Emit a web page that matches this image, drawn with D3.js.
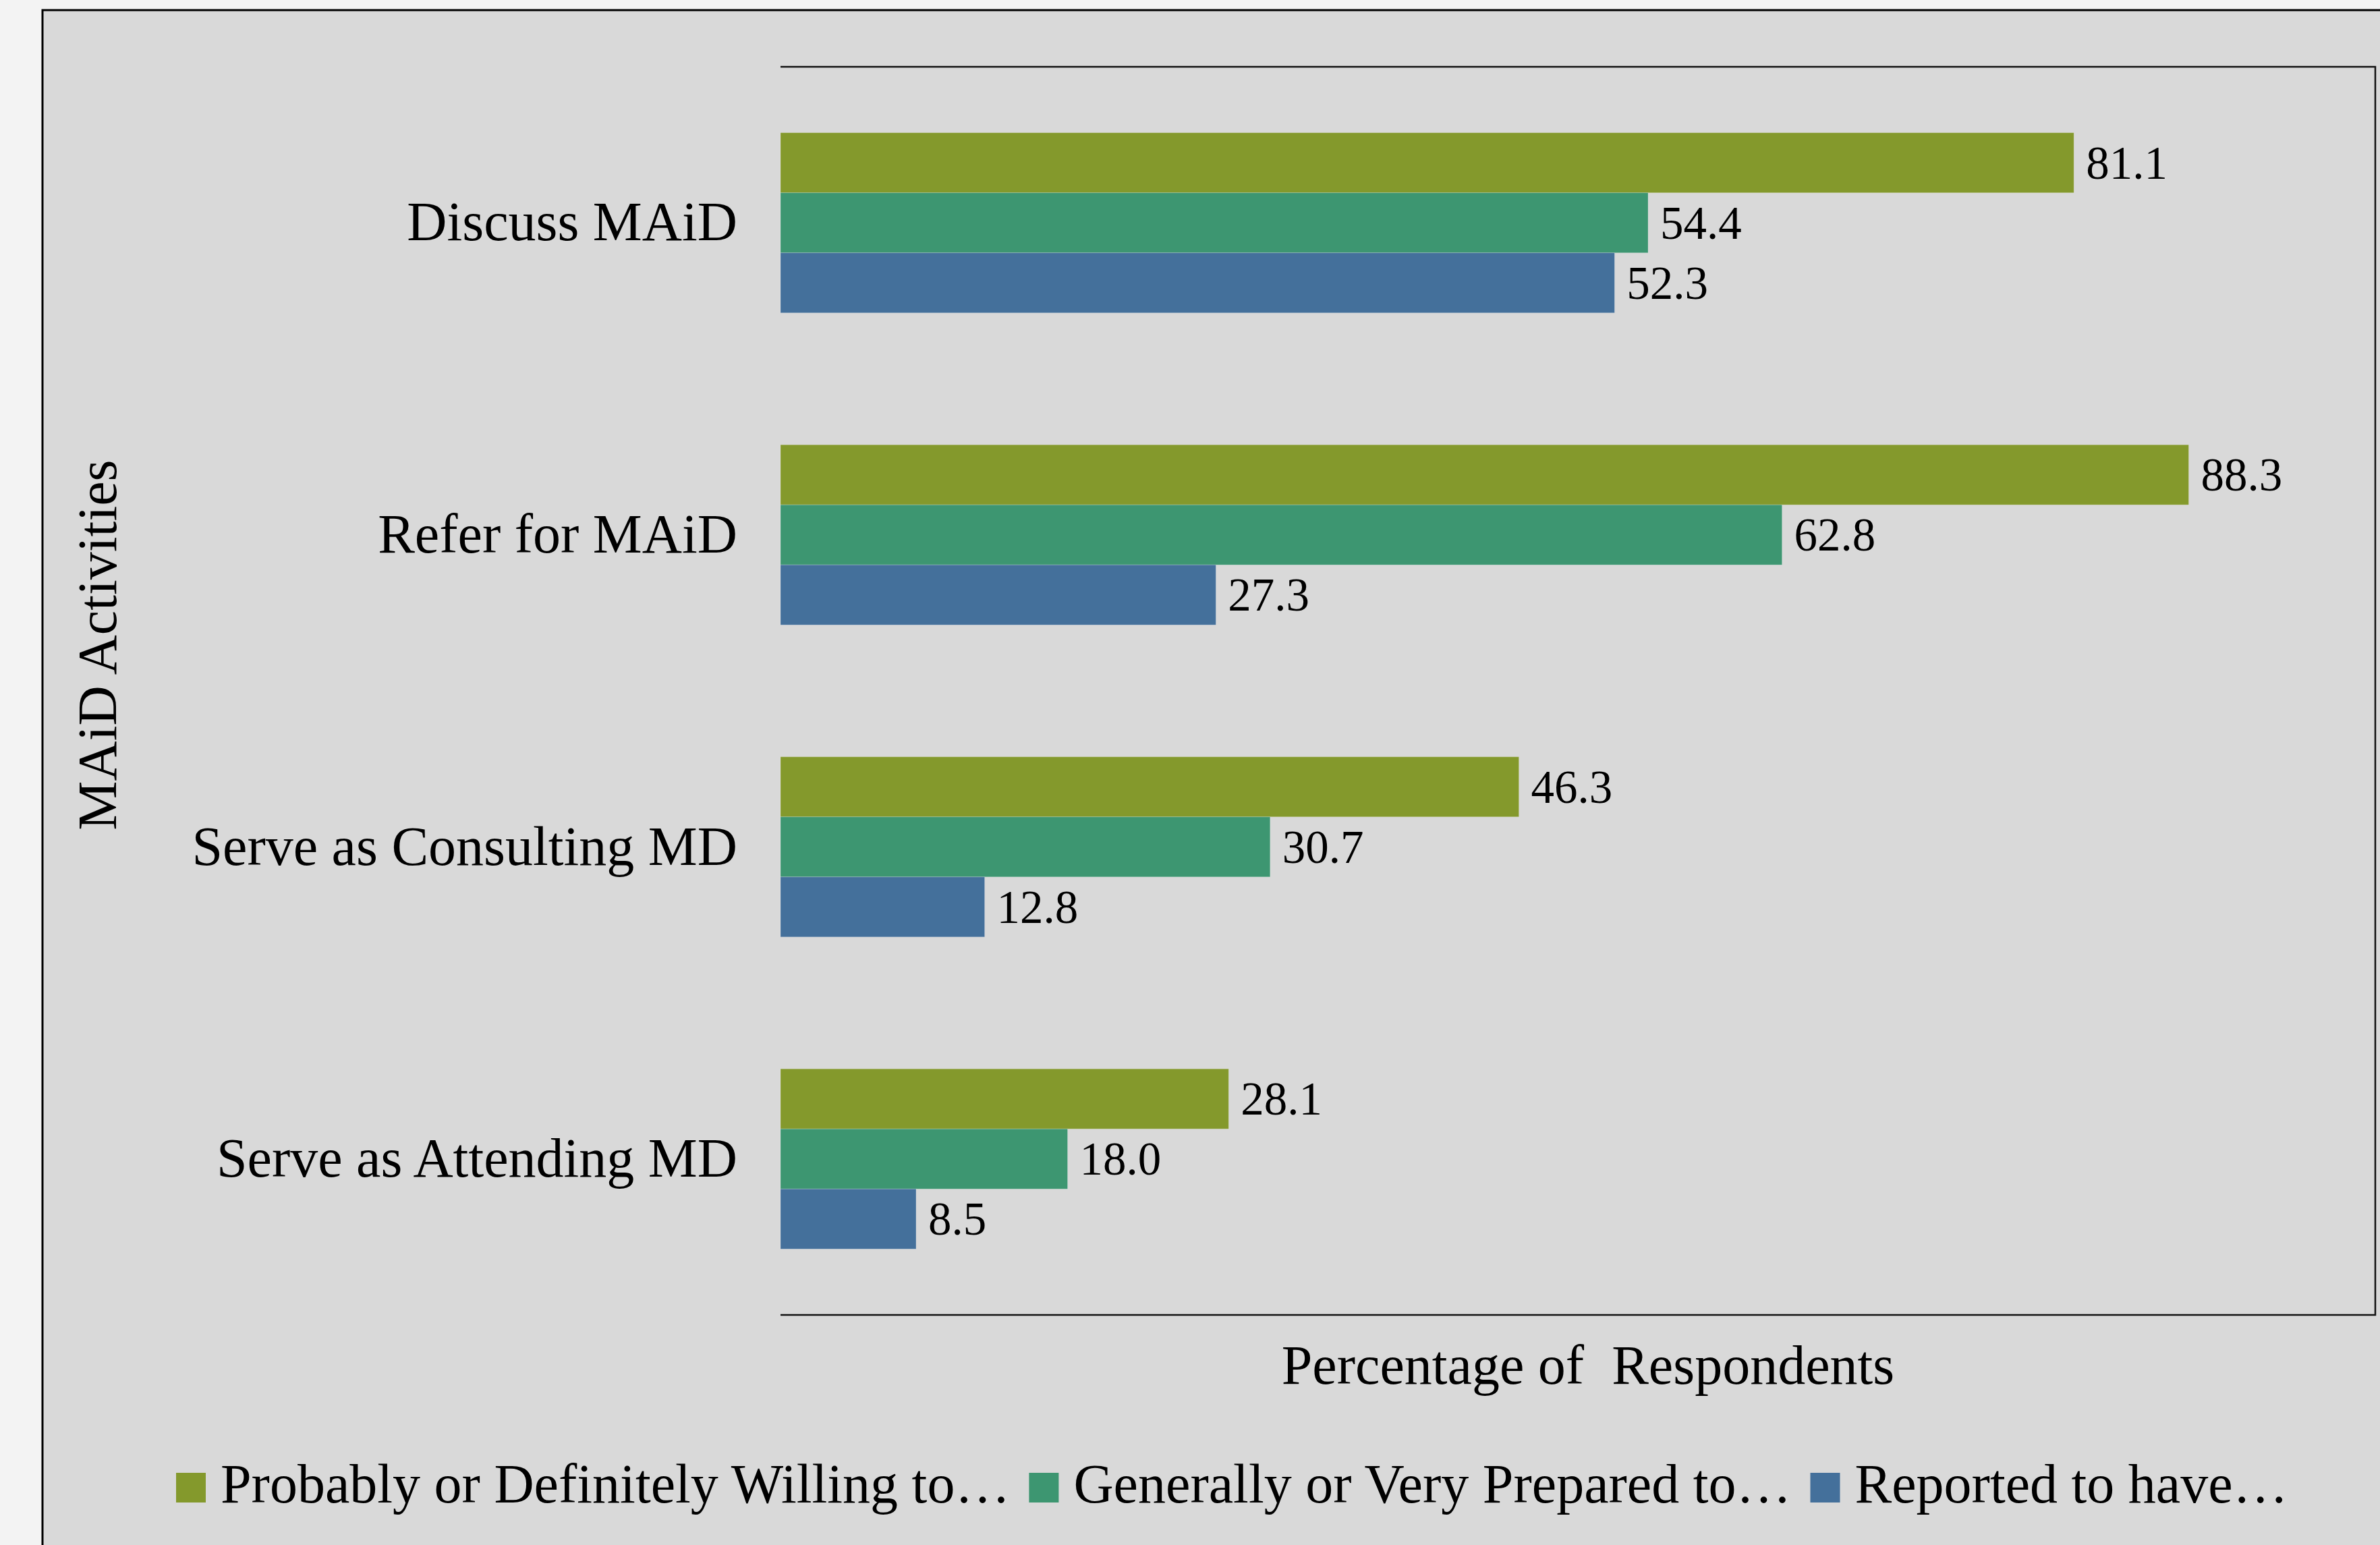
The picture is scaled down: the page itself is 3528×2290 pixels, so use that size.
<!DOCTYPE html>
<html>
<head>
<meta charset="utf-8">
<script src="https://cdn.jsdelivr.net/npm/d3@7"></script>
<style>
	html, body { margin: 0; padding: 0; background: #f3f3f3; }
	svg { display: block; }
	text { font-family: "Liberation Serif", "DejaVu Serif", serif; fill: #000; }
	.cat-axis text { font-size: 82px; }
	.axis-title { font-size: 82px; }
	.value-label { font-size: 69px; }
	.legend-text { font-size: 82px; }
</style>
</head>
<body>
<svg id="chart"></svg>
<script>
const categories = ["Discuss MAiD", "Refer for MAiD", "Serve as Consulting MD", "Serve as Attending MD"];
const seriesNames = ["Probably or Definitely Willing to…", "Generally or Very Prepared to…", "Reported to have…"];
const willing = [81.1, 88.3, 46.3, 28.1];
const prepared = [54.4, 62.8, 30.7, 18.0];
const reported = [52.3, 27.3, 12.8, 8.5];
const colors = ["#84992c", "#3d9671", "#44709b"];

const width = 3528;
const height = 2290;
const margin = { top: 99, right: 7, bottom: 341, left: 1157 };

const svg = d3.select("#chart")
	.attr("width", width)
	.attr("height", height);

// outer panel, runs off the right and bottom edges
svg.append("rect")
	.attr("x", 63)
	.attr("y", 15)
	.attr("width", width)
	.attr("height", height)
	.attr("fill", "#d9d9d9")
	.attr("stroke", "#000")
	.attr("stroke-width", 3);

const rows = categories.map((c, i) => ({
	category: c,
	values: [willing[i], prepared[i], reported[i]]
}));

const y = d3.scaleBand()
	.domain(categories)
	.range([margin.top, height - margin.bottom])
	.paddingInner(0.4227)
	.paddingOuter(0.2113);

const ySub = d3.scaleBand()
	.domain(d3.range(seriesNames.length))
	.range([0, y.bandwidth()]);

const x = d3.scaleLinear()
	.domain([0, 100])
	.range([margin.left, width - margin.right]);

// plot area frame (top, right, bottom)
svg.append("path")
	.attr("d", `M${x(0)},${y.range()[0]}H${x(100)}V${y.range()[1]}H${x(0)}`)
	.attr("fill", "none")
	.attr("stroke", "#111")
	.attr("stroke-width", 2.5);

// bars
const groups = svg.append("g")
	.attr("class", "bars")
	.selectAll("g")
	.data(rows)
	.join("g")
	.attr("transform", d => `translate(0,${y(d.category)})`);

groups.selectAll("rect")
	.data(d => d.values.map((v, k) => ({ v, k })))
	.join("rect")
	.attr("x", x(0))
	.attr("y", d => ySub(d.k))
	.attr("width", d => x(d.v) - x(0))
	.attr("height", ySub.bandwidth())
	.attr("fill", d => colors[d.k])
	.attr("stroke", "rgba(255,255,255,0.2)")
	.attr("stroke-width", 1);

groups.selectAll("text")
	.data(d => d.values.map((v, k) => ({ v, k })))
	.join("text")
	.attr("class", "value-label")
	.attr("x", d => x(d.v) + 18)
	.attr("y", d => ySub(d.k) + ySub.bandwidth() / 2)
	.attr("dy", "0.34em")
	.text(d => d.v.toFixed(1));

// category axis
const yAxis = svg.append("g")
	.attr("class", "cat-axis")
	.attr("transform", `translate(${x(0)},0)`)
	.call(d3.axisLeft(y).tickSize(0).tickPadding(64));
yAxis.select(".domain").remove();
yAxis.selectAll("text")
	.attr("dy", "0.32em");
yAxis.attr("font-family", null).attr("font-size", null);

// axis titles
svg.append("text")
	.attr("class", "axis-title")
	.attr("transform", `translate(172,956) rotate(-90)`)
	.attr("text-anchor", "middle")
	.text("MAiD Activities");

svg.append("text")
	.attr("class", "axis-title")
	.attr("x", 2354)
	.attr("y", 2051)
	.attr("text-anchor", "middle")
	.attr("xml:space", "preserve")
	.text("Percentage of  Respondents");

// legend
const legend = svg.append("g")
	.attr("class", "legend")
	.attr("transform", "translate(261,2227)");

let lx = 0;
seriesNames.forEach((name, k) => {
	const item = legend.append("g").attr("transform", `translate(${lx},0)`);
	item.append("rect")
		.attr("x", 0)
		.attr("y", -44)
		.attr("width", 44)
		.attr("height", 44)
		.attr("fill", colors[k]);
	const t = item.append("text")
		.attr("class", "legend-text")
		.attr("x", 66)
		.attr("y", 0)
		.text(name);
	lx += 66 + t.node().getComputedTextLength() + 28;
});
</script>
</body>
</html>
